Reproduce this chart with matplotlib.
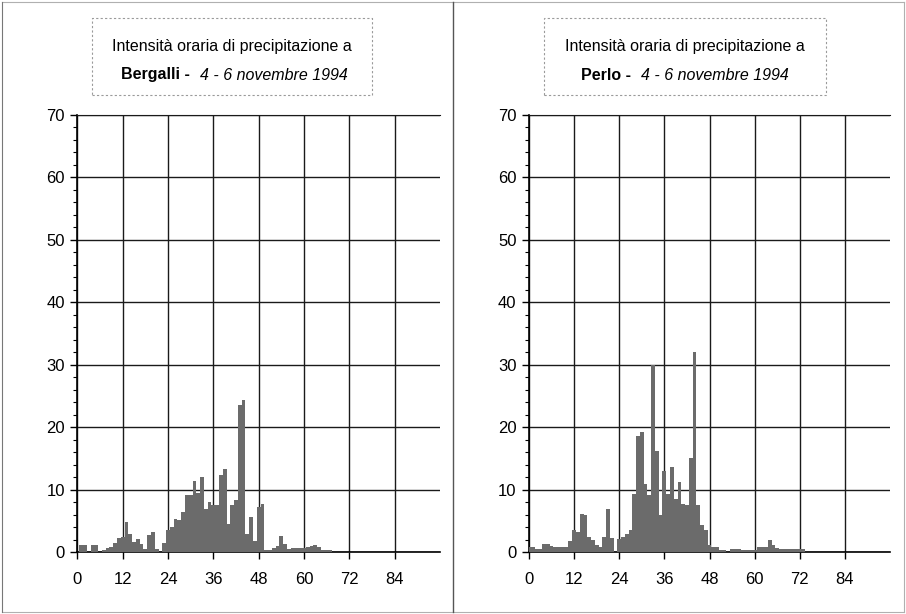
import matplotlib
matplotlib.use("Agg")
import matplotlib.pyplot as plt
import numpy as np
from matplotlib.patches import Rectangle
from matplotlib.lines import Line2D

plt.rcParams['font.family'] = ['Liberation Sans', 'DejaVu Sans']

# hourly precipitation intensity (mm/h), hour 0 = start of 4 Nov 1994
rain_bergalli = [0, 1.1, 1.1, 0, 1.1, 1.1, 0, 0.4, 0.7, 0.9,
                 1.5, 2.3, 2.4, 4.8, 2.9, 1.6, 2.1, 1.3, 0.5, 2.8,
                 3.3, 0.5, 0, 1.5, 3.6, 4.0, 5.3, 5.2, 6.5, 9.2,
                 9.2, 11.4, 9.5, 12.0, 7.0, 8.1, 7.6, 7.5, 12.4, 13.3,
                 4.6, 7.5, 8.4, 23.5, 24.4, 3.0, 5.7, 1.8, 7.2, 7.8,
                 0.3, 0.4, 0.7, 1.0, 2.6, 1.4, 0.5, 0.7, 0.7, 0.7,
                 0.7, 0.9, 1.0, 1.2, 0.8, 0.4, 0.3, 0.3]

rain_perlo = [0.8, 0.8, 0.55, 0.55, 1.3, 1.3, 1.0, 0.9, 0.8, 0.8,
              0.8, 1.8, 3.5, 3.2, 6.2, 6.0, 2.4, 2.0, 1.1, 0.8,
              2.5, 6.9, 2.3, 0, 2.2, 2.5, 2.9, 3.5, 9.4, 18.6,
              19.3, 10.9, 9.2, 30.0, 16.2, 6.0, 13.0, 9.3, 13.6, 8.5,
              11.2, 7.8, 7.6, 15.1, 32.0, 7.5, 4.3, 3.5, 1.1, 0.8,
              0.8, 0.4, 0.4, 0, 0.5, 0.5, 0.5, 0.4, 0.4, 0.4,
              0.4, 0.8, 0.8, 0.9, 1.9, 1.2, 0.7, 0.6, 0.6, 0.6,
              0.6, 0.5, 0.5, 0.5]

stations = ["Bergalli", "Perlo"]
date_label = "4 - 6 novembre 1994"
title_line1 = "Intensità oraria di precipitazione a"
x_ticks = [0, 12, 24, 36, 48, 60, 72, 84]
y_ticks = [0, 10, 20, 30, 40, 50, 60, 70]

fig = plt.figure(figsize=(9.06, 6.14), dpi=100)
fig.patch.set_facecolor("white")

W, H = 906, 614
panels = [
    # axes left/right in pixels, title box, title centre, bold end, italic start
    dict(data=rain_bergalli, ax_px=(77.3, 440), box=(92, 18, 372, 95), cx=232, bold_end=190, ital_start=200),
    dict(data=rain_perlo, ax_px=(529, 890), box=(544, 18, 826, 95), cx=685, bold_end=631, ital_start=641),
]

for name, p in zip(stations, panels):
    x0, x1 = p["ax_px"]
    ax = fig.add_axes([x0 / W, 1 - 552.3 / H, (x1 - x0) / W, (552.3 - 115) / H])
    vals = p["data"]
    hours = np.arange(len(vals))
    ax.bar(hours, vals, width=1.0, color="#6b6b6b", edgecolor="none", zorder=3)

    ax.set_xlim(0, 96)
    ax.set_ylim(0, 70)
    ax.set_xticks(x_ticks)
    ax.set_yticks(y_ticks)
    ax.set_yticks(np.arange(0, 71, 2), minor=True)
    ax.grid(True, which="major", color="#1a1a1a", linewidth=1.0, zorder=1)
    ax.grid(False, which="minor")
    ax.spines["right"].set_visible(False)
    ax.spines["top"].set_color("#1a1a1a")
    ax.spines["left"].set_linewidth(1.2)
    ax.spines["bottom"].set_linewidth(1.2)
    ax.tick_params(axis="both", which="major", labelsize=12, length=5, width=1, pad=4)
    ax.tick_params(axis="y", which="minor", length=3, width=0.8)
    ax.tick_params(axis="x", which="major", pad=9)

    # title box
    bx0, by0, bx1, by1 = p["box"]
    fig.patches.append(Rectangle((bx0 / W, 1 - by1 / H), (bx1 - bx0) / W, (by1 - by0) / H,
                                 transform=fig.transFigure, fill=False,
                                 edgecolor="#9a9a9a", linestyle=(0, (2, 2)), linewidth=0.8))
    fig.text(p["cx"] / W, 1 - 47 / H, title_line1, ha="center", va="center", fontsize=11.5)
    fig.text(p["bold_end"] / W, 1 - 75 / H, name + " -", ha="right", va="center",
             fontsize=11.5, fontweight="bold")
    fig.text(p["ital_start"] / W, 1 - 75 / H, date_label, ha="left", va="center",
             fontsize=11.5, fontstyle="italic")

# outer frame and divider
frame_col = "#b0b0b0"
for xs, ys, c, lw in [([2, 904], [2, 2], frame_col, 0.8),
                      ([2, 904], [612, 612], frame_col, 0.8),
                      ([2, 2], [2, 612], "#777777", 0.8),
                      ([904, 904], [2, 612], frame_col, 0.8),
                      ([453, 453], [2, 612], "#555555", 1.0)]:
    fig.lines.append(Line2D([x / W for x in xs], [1 - y / H for y in ys],
                            transform=fig.transFigure, color=c, linewidth=lw))

fig.savefig("out.png", dpi=100)
